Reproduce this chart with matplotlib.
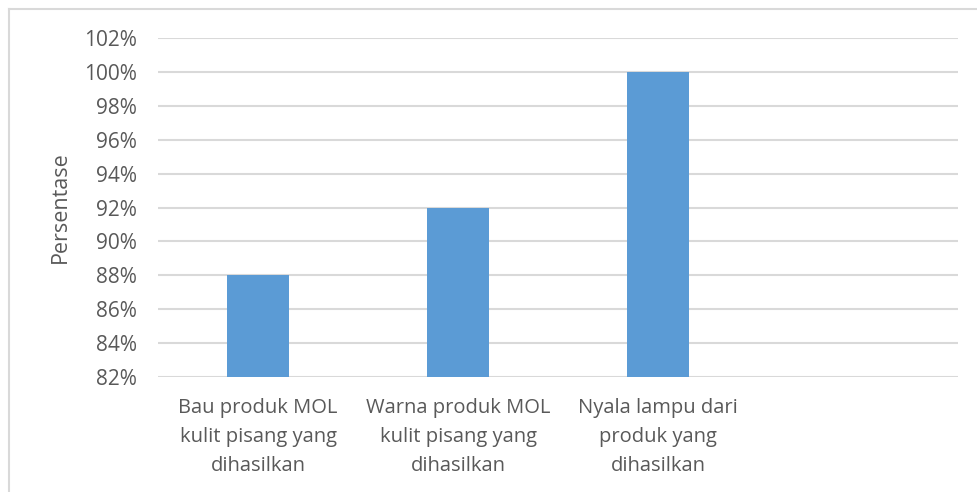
import matplotlib.pyplot as plt
import numpy as np
from matplotlib.lines import Line2D
from matplotlib.ticker import FuncFormatter

plt.rcParams['font.family'] = ['Open Sans', 'DejaVu Sans']

categories = ['Bau produk MOL\nkulit pisang yang\ndihasilkan',
              'Warna produk MOL\nkulit pisang yang\ndihasilkan',
              'Nyala lampu dari\nproduk yang\ndihasilkan',
              '']
values = [88, 92, 100, np.nan]
y_ticks = np.arange(82, 103, 2)

txt = '#595959'
fig = plt.figure(figsize=(9.77, 4.92), dpi=100)
ax = fig.add_axes((158 / 977, 1 - 377 / 492, 800 / 977, 339 / 492))

x = np.arange(len(categories))
ax.bar(x, values, width=0.31, color='#5b9bd5', zorder=3)

ax.set_xlim(-0.5, len(categories) - 0.5)
ax.set_ylim(82, 102)
ax.set_yticks(y_ticks)
ax.yaxis.set_major_formatter(FuncFormatter(lambda v, p: f'{v:.0f}%'))
ax.set_xticks(x)
ax.set_xticklabels(categories, linespacing=1.6)
ax.tick_params(axis='x', length=0, labelsize=14.5, labelcolor=txt, pad=15)
ax.tick_params(axis='y', length=0, labelsize=15, labelcolor=txt, pad=15)
ax.grid(axis='y', color='#d9d9d9', linewidth=1.5, zorder=0)
for s in ax.spines.values():
    s.set_visible(False)
ax.set_ylabel('Persentase', fontsize=15.5, color=txt, labelpad=10)

# outer chart border (cut off at right and bottom)
fig.add_artist(Line2D([8.5 / 977, 8.5 / 977], [1 - 8.5 / 492, 0], color='#d9d9d9', lw=1.5))
fig.add_artist(Line2D([8.5 / 977, 1], [1 - 8.5 / 492, 1 - 8.5 / 492], color='#d9d9d9', lw=1.5))

plt.savefig('out.png', dpi=100)
plt.close(fig)
